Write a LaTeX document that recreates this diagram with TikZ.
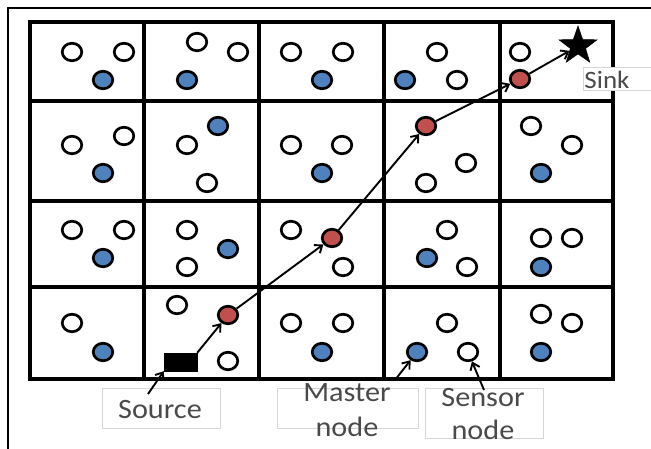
\documentclass[tikz,border=0pt]{standalone}
\usepackage{fontspec}
\setmainfont{Carlito}
\usetikzlibrary{shapes.geometric,arrows.meta}
\definecolor{mblue}{HTML}{4F81BD}
\definecolor{mred}{HTML}{C0504D}
\definecolor{txtgray}{HTML}{4A4A4A}
\definecolor{boxgray}{HTML}{D6D6D6}
\newcommand{\wtxt}[1]{\scalebox{1.08}[1]{#1}}
\tikzset{
  gridline/.style={line width=3.1pt, line cap=rect},
  frameline/.style={line width=2.6pt},
  sn/.style={ellipse, draw=black, line width=2.7pt, minimum width=19.5pt, minimum height=17.5pt, inner sep=0pt},
  wn/.style={sn, fill=white},
  bn/.style={sn, fill=mblue},
  rn/.style={sn, fill=mred},
  arr/.style={line width=1.9pt, -{Straight Barb[length=6.5pt,width=10pt,line width=1.9pt]}},
  lbox/.style={draw=boxgray, line width=0.8pt, fill=white, inner sep=0pt},
  ltxt/.style={text=txtgray, inner sep=0pt, font=\fontsize{28}{32}\selectfont},
}
\begin{document}
\begin{tikzpicture}[x=1pt,y=-1pt]
\useasboundingbox (0,0) rectangle (651,449);
\fill[white] (0,0) rectangle (651,449);
% outer frame
\draw[frameline] (8,449) -- (8,8) -- (651,8);
% grid
\foreach \gx in {30,144,259,384,500,613} \draw[gridline] (\gx,22) -- (\gx,379);
\foreach \gy in {22,101,201,287,379} \draw[gridline] (30,\gy) -- (613,\gy);
% white sensor nodes
\foreach \px/\py [count=\i] in {72/52,124/52,197/42,238/52,291/52,343/52,437/52,457/80,520/52,
  72/145,124/136,187/145,207/183,291/145,342/145,466/163,426/183,531/126,572/145,
  72/230,124/230,187/230,187/267,291/230,343/267,447/230,467/267,541/238,572/238,
  72/323,177/305,228/361,291/323,343/323,447/323,541/314,572/323}
  \node[wn] (w\i) at (\px,\py) {};
% blue master nodes
\foreach \px/\py [count=\i] in {103/80,187/80,322/80,405/80,
  103/173,218/126,322/173,541/173,
  103/258,228/249,427/258,541/267,
  103/352,322/352,541/352}
  \node[bn] (b\i) at (\px,\py) {};
\node[bn] (mnode) at (417,352) {};
\node[wn] (snode) at (468,352) {};
% route
\node[rn] (r1) at (228,315) {};
\node[rn] (r2) at (332,238) {};
\node[rn] (r3) at (426,126) {};
\node[rn] (r4) at (520,79) {};
\node[draw=black, fill=black, minimum width=33pt, minimum height=18pt, inner sep=0pt] (src) at (180.5,362) {};
\node[star, star points=5, star point ratio=2.5, fill=black, draw=black, line width=0.5pt, minimum size=40pt, inner sep=0pt] (sink) at (578,46) {};
\draw[arr] (src.north east) -- (r1);
\draw[arr] (r1) -- (r2);
\draw[arr] (r2) -- (r3);
\draw[arr] (r3) -- (r4);
\draw[arr] (r4) -- (sink);
% labels
\node[lbox, minimum width=118pt, minimum height=40pt] (srcbox) at (161,408) {};
\node[ltxt] (srctxt) at (160,410) {\wtxt{Source}};
\node[lbox, minimum width=141pt, minimum height=40pt] (mbox) at (347.5,408) {};
\node[ltxt] (mtxt1) at (347,393) {\wtxt{Master}};
\node[ltxt] (mtxt2) at (347,427) {\wtxt{node}};
\node[lbox, minimum width=118pt, minimum height=50pt] (sbox) at (484,413) {};
\node[ltxt] (stxt1) at (483,398) {\wtxt{Sensor}};
\node[ltxt] (stxt2) at (483,430) {\wtxt{node}};
\node[lbox, minimum width=80pt, minimum height=23pt] (sinkbox) at (623,78.5) {};
\node[ltxt, font=\fontsize{25}{28}\selectfont] (sinktxt) at (607,80) {\wtxt{Sink}};
\coordinate (srcfrom) at (148,394);
\coordinate (mfrom) at (395,380);
\coordinate (sfrom) at (484,390);
\draw[arr] (srcfrom) -- (src.south west);
\draw[arr] (mfrom) -- (mnode);
\draw[arr] (sfrom) -- (snode);
\end{tikzpicture}
\end{document}
